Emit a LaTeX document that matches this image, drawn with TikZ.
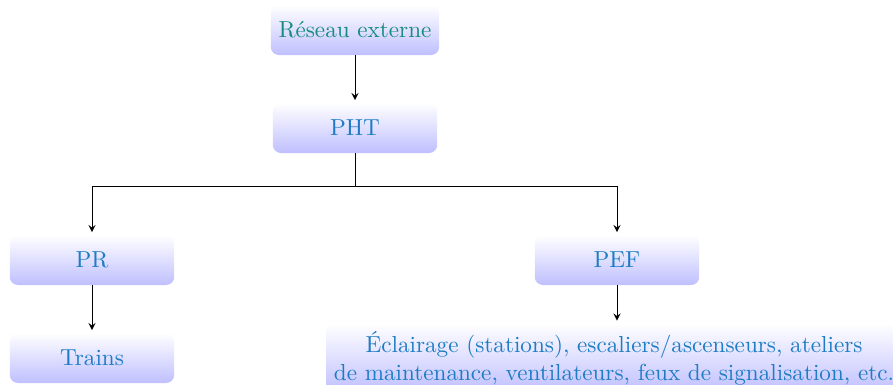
\documentclass[tikz,border=0pt]{standalone}
\usetikzlibrary{arrows.meta}
\definecolor{tealtxt}{HTML}{178C7A}
\definecolor{bluetxt}{HTML}{1E7CC4}
\tikzset{
  box/.style={rounded corners=3.5pt, top color=white, bottom color=blue!25,
    minimum width=71pt, minimum height=21.6pt, text=bluetxt, inner sep=3.33pt, align=center},
  arr/.style={-stealth, line width=0.4pt, shorten >=1pt},
  link/.style={line width=0.4pt}
}
\begin{document}
\begin{tikzpicture}[x=0.4317pt,y=-0.4317pt]
\useasboundingbox (0,0) rectangle (893,385);
\node[box, text=tealtxt] (res) at (355,30) {Réseau externe};
\node[box] (pht) at (355,128) {PHT};
\node[box] (pr) at (92,260) {PR};
\node[box] (pef) at (617,260) {PEF};
\node[box] (tr) at (92,358) {Trains};
\node[box] (ecl) at (614,358) {Éclairage (stations), escaliers/ascenseurs, ateliers\\de maintenance, ventilateurs, feux de signalisation, etc.};
\coordinate (j) at (355,186);
\draw[arr] (res) -- (pht);
\draw[link] (pht.south) -- (j);
\draw[arr] (j) -| (pr.north);
\draw[arr] (j) -| (pef.north);
\draw[arr] (pr) -- (tr);
\draw[arr] (pef.south) -- (pef.south |- ecl.north);
\end{tikzpicture}
\end{document}
